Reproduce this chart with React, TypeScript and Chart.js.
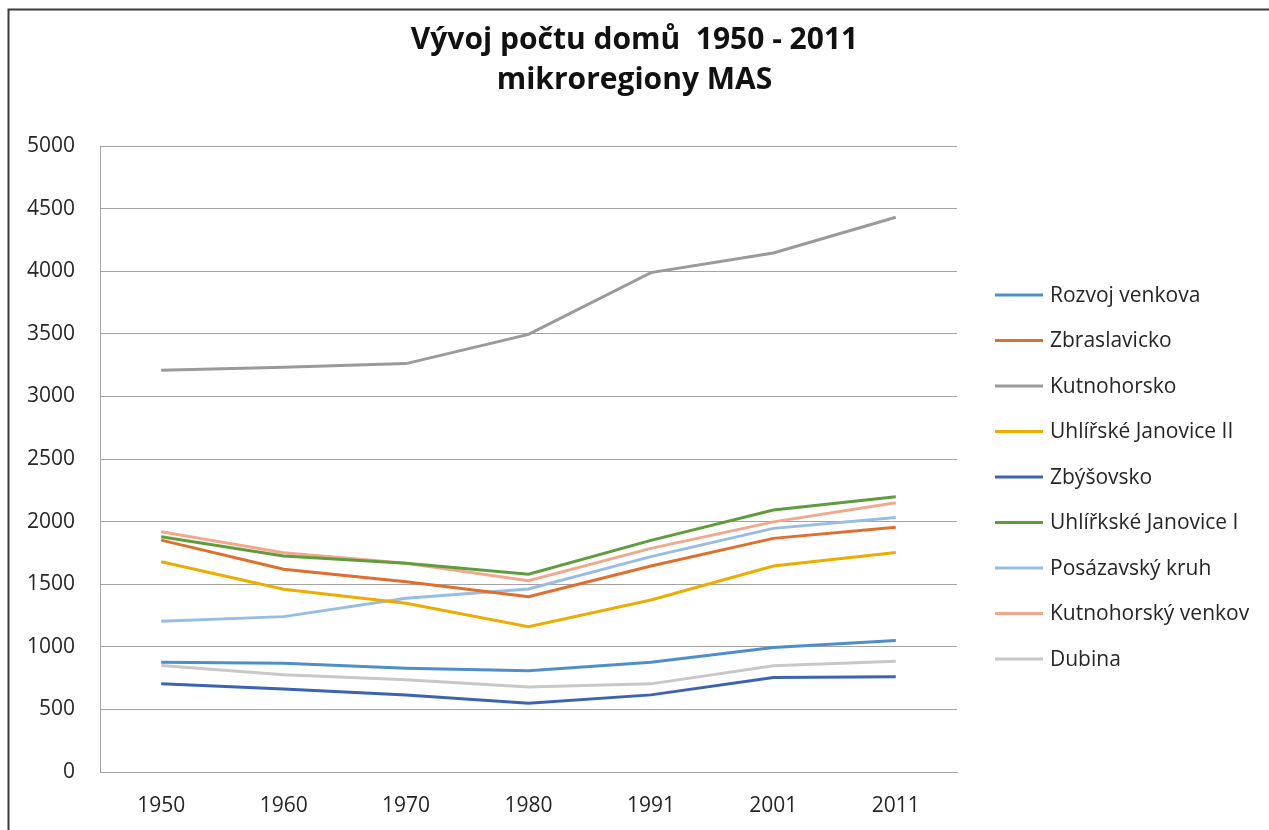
import React, { useEffect, useRef } from "react";
import { Chart, registerables } from "chart.js";

Chart.register(...registerables);

const TITLE_LINES = ["Vývoj počtu domů  1950 - 2011", "mikroregiony MAS"];
const YEARS = ["1950", "1960", "1970", "1980", "1991", "2001", "2011"];

const SERIES_NAMES = [
  "Rozvoj venkova",
  "Zbraslavicko",
  "Kutnohorsko",
  "Uhlířské Janovice II",
  "Zbýšovsko",
  "Uhlířkské Janovice I",
  "Posázavský kruh",
  "Kutnohorský venkov",
  "Dubina",
];

const rozvojVenkova = [877, 869, 829, 808, 877, 994, 1050];
const zbraslavicko = [1852, 1619, 1520, 1400, 1645, 1866, 1954];
const kutnohorsko = [3209, 3232, 3262, 3495, 3989, 4146, 4431];
const uhlirskeJanoviceII = [1680, 1459, 1348, 1161, 1374, 1645, 1754];
const zbysovsko = [704, 662, 616, 550, 616, 754, 760];
const uhlirkskeJanoviceI = [1879, 1725, 1667, 1579, 1850, 2092, 2198];
const posazavskyKruh = [1204, 1241, 1388, 1462, 1720, 1946, 2033];
const kutnohorskyVenkov = [1919, 1751, 1667, 1528, 1786, 1998, 2150];
const dubina = [850, 776, 736, 678, 704, 848, 885];

const SERIES_VALUES = [
  rozvojVenkova,
  zbraslavicko,
  kutnohorsko,
  uhlirskeJanoviceII,
  zbysovsko,
  uhlirkskeJanoviceI,
  posazavskyKruh,
  kutnohorskyVenkov,
  dubina,
];

const COLORS = [
  "#4E8FCB",
  "#DE6F2C",
  "#9A9A9A",
  "#EBAE00",
  "#3B63B2",
  "#5F9D3C",
  "#98BDE4",
  "#F1A98E",
  "#C8C8C8",
];

const FONT = "'Open Sans', 'Noto Sans', sans-serif";
const TEXT_COLOR = "#262626";
const GRID_COLOR = "#A3A3A3";

const framePlugin = {
  id: "frame",
  afterDraw(chart: any) {
    const ctx = chart.ctx;
    ctx.save();
    ctx.strokeStyle = "#3A3A3A";
    ctx.lineWidth = 2;
    ctx.beginPath();
    ctx.moveTo(8.5, chart.height);
    ctx.lineTo(8.5, 9.5);
    ctx.lineTo(chart.width, 9.5);
    ctx.stroke();
    ctx.restore();
  },
};

const sideLegendPlugin = {
  id: "sideLegend",
  afterDraw(chart: any) {
    const ctx = chart.ctx;
    const area = chart.chartArea;
    const x0 = area.right + 38;
    const y0 = area.top + 149;
    const step = 45.5;
    ctx.save();
    ctx.font = `21px ${FONT}`;
    ctx.textBaseline = "middle";
    ctx.textAlign = "left";
    chart.data.datasets.forEach((ds: any, i: number) => {
      const y = y0 + i * step;
      ctx.strokeStyle = ds.borderColor;
      ctx.lineWidth = 3;
      ctx.beginPath();
      ctx.moveTo(x0, y);
      ctx.lineTo(x0 + 48, y);
      ctx.stroke();
      ctx.fillStyle = TEXT_COLOR;
      ctx.fillText(ds.label, x0 + 55, y + 1);
    });
    ctx.restore();
  },
};

export default function App() {
  const canvasRef = useRef<HTMLCanvasElement | null>(null);

  useEffect(() => {
    if (!canvasRef.current) return;
    const chart = new Chart(canvasRef.current, {
      type: "line",
      data: {
        labels: YEARS,
        datasets: SERIES_NAMES.map((name, i) => ({
          label: name,
          data: SERIES_VALUES[i],
          borderColor: COLORS[i],
          backgroundColor: COLORS[i],
          borderWidth: 3,
          pointRadius: 0,
          pointHoverRadius: 0,
          tension: 0,
          fill: false,
          yAxisID: "y",
        })),
      },
      options: {
        animation: false,
        responsive: false,
        maintainAspectRatio: false,
        layout: { padding: 0 },
        plugins: {
          legend: { display: false },
          tooltip: { enabled: false },
          title: {
            display: true,
            text: TITLE_LINES,
            color: "#111",
            font: { family: FONT, size: 30, weight: "bold", lineHeight: "40px" as any },
            padding: { top: 20, bottom: 46 },
          },
        },
        scales: {
          x: {
            type: "category",
            offset: true,
            grid: { display: false, drawTicks: false },
            border: { display: true, color: GRID_COLOR, width: 1 },
            ticks: {
              color: TEXT_COLOR,
              font: { family: FONT, size: 21 },
              padding: 21,
              maxRotation: 0,
            },
            afterFit(scale: any) {
              scale.height = 58;
            },
          },
          y: {
            position: "left",
            min: 0,
            max: 5000,
            ticks: {
              stepSize: 500,
              color: TEXT_COLOR,
              font: { family: FONT, size: 21 },
              padding: 25,
              callback: (v: any) => String(v),
            },
            grid: { color: GRID_COLOR, drawTicks: false, lineWidth: 1 },
            border: { display: true, color: GRID_COLOR, width: 1 },
            afterFit(scale: any) {
              scale.width = 100;
            },
          },
          legendSpace: {
            type: "linear",
            position: "right",
            display: true,
            min: 0,
            max: 1,
            grid: { display: false, drawTicks: false },
            border: { display: false },
            ticks: { display: false },
            afterFit(scale: any) {
              scale.width = 312;
            },
          },
        },
      },
      plugins: [framePlugin, sideLegendPlugin],
    });
    return () => chart.destroy();
  }, []);

  return (
    <div style={{ position: "fixed", left: 0, top: 0, width: 1269, height: 830, background: "#fff" }}>
      <canvas ref={canvasRef} width={1269} height={830} style={{ display: "block" }} />
    </div>
  );
}
